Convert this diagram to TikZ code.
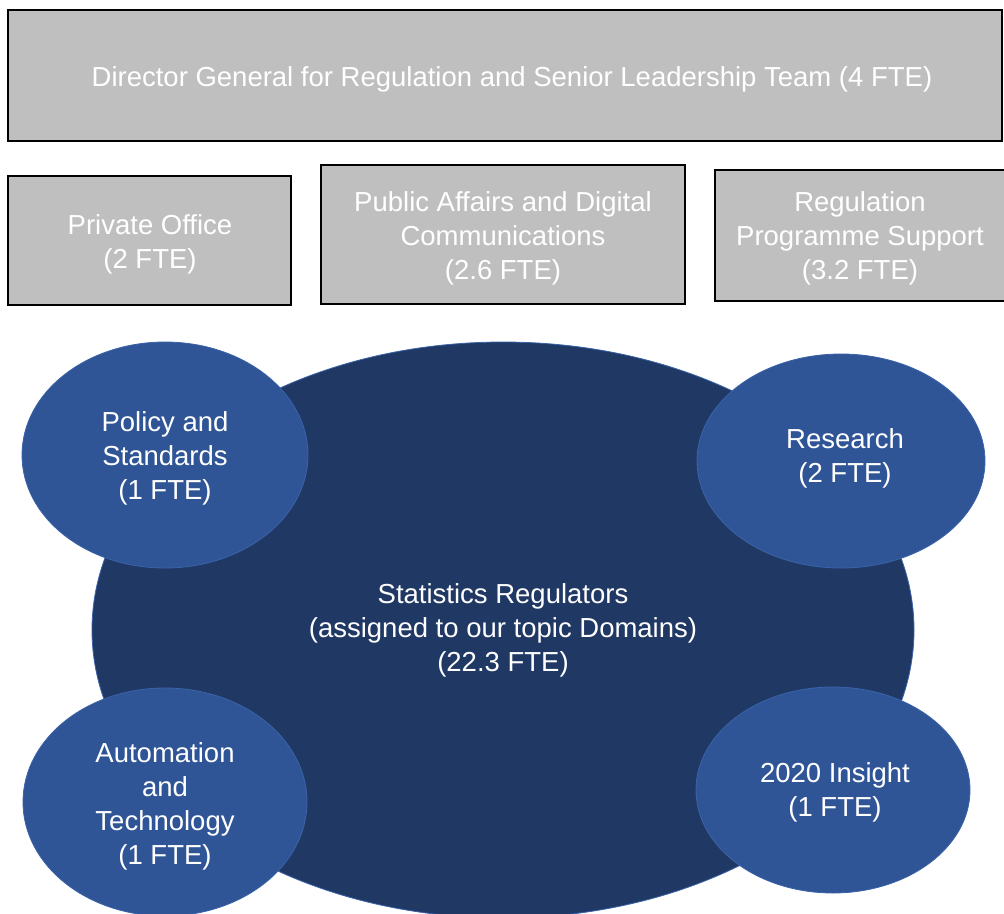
\documentclass[tikz,border=0pt]{standalone}
\usepackage{fontspec}
\setmainfont{Liberation Sans}
\usetikzlibrary{shapes.geometric}
\definecolor{boxgray}{HTML}{BFBFBF}
\definecolor{bigblue}{HTML}{203864}
\definecolor{midblue}{HTML}{2F5597}
\definecolor{edgeblue}{HTML}{3A63A8}
\begin{document}
\begin{tikzpicture}[x=1pt,y=-1pt,
  txt/.style={text=white,align=center,font=\fontsize{27.5}{34}\selectfont},
  graybox/.style={draw=black,line width=2pt,fill=boxgray,inner sep=0pt},
  bigell/.style={ellipse,fill=bigblue,draw=edgeblue,line width=0.8pt,inner sep=0pt,txt},
  smallell/.style={ellipse,fill=midblue,draw=edgeblue,line width=0.8pt,inner sep=0pt,txt}]
\useasboundingbox (0,0) rectangle (1004,913);
\node[graybox,minimum width=994pt,minimum height=131pt] (dg) at (505,75.5) {};
\node[txt] (dgt) at (512,79) {Director General for Regulation and Senior Leadership Team (4 FTE)};
\node[graybox,minimum width=283pt,minimum height=129pt] (po) at (149.5,240.5) {};
\node[txt] (pot) at (150,244) {Private Office\\(2 FTE)};
\node[graybox,minimum width=364pt,minimum height=139pt] (pa) at (503,234.5) {};
\node[txt] (pat) at (503,238) {Public Affairs and Digital\\Communications\\(2.6 FTE)};
\node[graybox,minimum width=300pt,minimum height=131pt] (rps) at (865,235.5) {};
\node[txt] (rpst) at (860,238) {Regulation\\Programme Support\\(3.2 FTE)};
\node[bigell,minimum width=822pt,minimum height=576pt] (sr) at (503,630) {Statistics Regulators\\(assigned to our topic Domains)\\(22.3 FTE)};
\node[smallell,minimum width=286pt,minimum height=226pt] (ps) at (165,455) {};
\node[txt] (pst) at (165,458) {Policy and\\Standards\\(1 FTE)};
\node[smallell,minimum width=288pt,minimum height=214pt] (rs) at (841,461) {};
\node[txt] (rst) at (845,458) {Research\\(2 FTE)};
\node[smallell,minimum width=284pt,minimum height=228pt] (at) at (165,802) {};
\node[txt] (att) at (165,806) {Automation\\and\\Technology\\(1 FTE)};
\node[smallell,minimum width=274pt,minimum height=206pt] (ins) at (833,790) {};
\node[txt] (inst) at (835,792) {2020 Insight\\(1 FTE)};
\end{tikzpicture}
\end{document}
